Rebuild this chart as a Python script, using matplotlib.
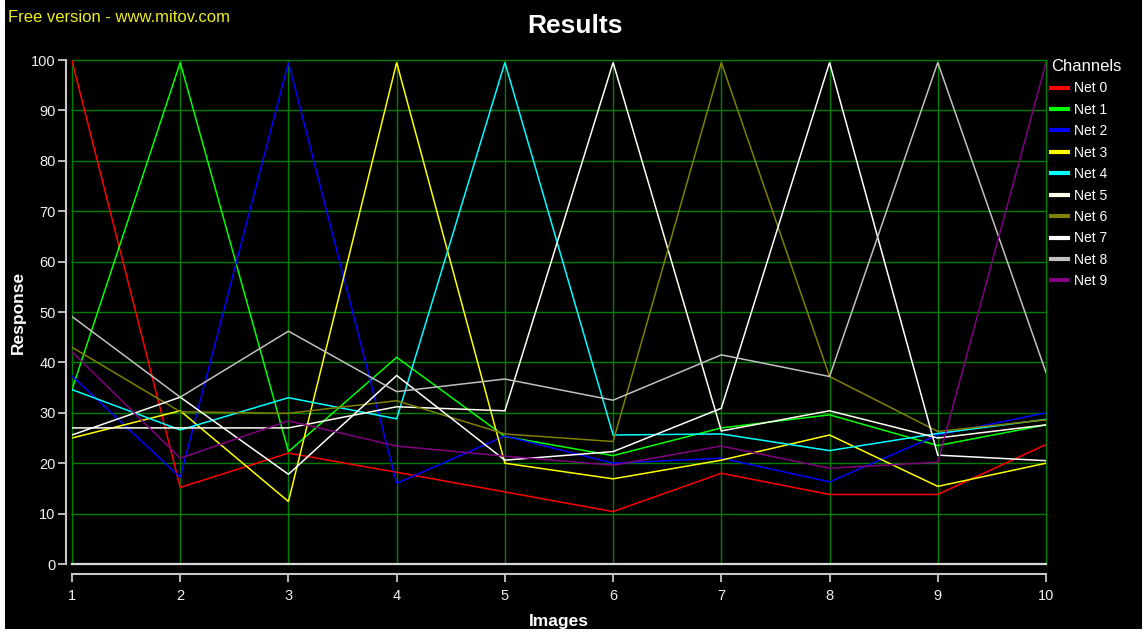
import matplotlib
matplotlib.use("Agg")
import matplotlib.pyplot as plt
from matplotlib.patches import Rectangle

plt.rcParams['font.family'] = ['Liberation Sans', 'DejaVu Sans']

# ---- data -------------------------------------------------------------
images = [1, 2, 3, 4, 5, 6, 7, 8, 9, 10]
channel_names = ["Net 0", "Net 1", "Net 2", "Net 3", "Net 4",
                 "Net 5", "Net 6", "Net 7", "Net 8", "Net 9"]

net0 = [99.8, 15.2, 22.0, 18.2, 14.3, 10.4, 18.0, 13.8, 13.8, 23.7]
net1 = [34.6, 99.5, 22.3, 41.0, 25.3, 21.5, 27.0, 29.6, 23.5, 27.6]
net2 = [37.3, 17.2, 99.5, 16.0, 25.4, 20.0, 21.0, 16.3, 25.6, 30.0]
net3 = [25.0, 30.4, 12.4, 99.5, 20.0, 16.9, 20.6, 25.6, 15.4, 20.0]
net4 = [34.6, 26.6, 33.0, 28.8, 99.5, 25.6, 25.8, 22.5, 25.9, 28.7]
net5 = [27.0, 27.0, 27.0, 31.2, 30.4, 99.5, 26.4, 30.4, 25.0, 27.6]
net6 = [43.0, 30.2, 29.9, 32.4, 25.8, 24.3, 99.5, 37.2, 26.3, 28.6]
net7 = [25.6, 33.1, 17.8, 37.4, 20.6, 22.3, 30.9, 99.5, 21.6, 20.5]
net8 = [49.1, 33.1, 46.2, 34.2, 36.7, 32.5, 41.5, 37.2, 99.5, 38.0]
net9 = [42.1, 21.0, 28.4, 23.4, 21.4, 19.6, 23.4, 19.0, 20.2, 99.5]

series = [net0, net1, net2, net3, net4, net5, net6, net7, net8, net9]
colors = ["#ff0000", "#00ff00", "#0000ff", "#ffff00", "#00ffff",
          "#fffff0", "#808000", "#ffffff", "#c0c0c0", "#800080"]

y_ticks = list(range(0, 101, 10))

# ---- figure -----------------------------------------------------------
W, H = 1147, 633
fig = plt.figure(figsize=(W / 100, H / 100), dpi=100, facecolor="white")
# black canvas with a thin light frame around it
fig.patches.append(Rectangle((5 / W, 4 / H), (W - 10) / W, (H - 4) / H,
                             transform=fig.transFigure, facecolor="black",
                             edgecolor="none", zorder=-10))

ax = fig.add_axes([72 / W, (H - 564) / H, (1046 - 72) / W, (564 - 60) / H])
ax.set_facecolor("black")
ax.set_xlim(1, 10)
ax.set_ylim(0, 100)

grid_green = "#008000"
for xv in images:
    ax.axvline(xv, color=grid_green, lw=1.0, zorder=1, clip_on=False)
for yv in y_ticks[1:]:
    ax.axhline(yv, color=grid_green, lw=1.0, zorder=1, clip_on=False)
ax.axhline(0, color="#d8d8d8", lw=1.6, zorder=2, clip_on=False)

for name, vals, col in zip(channel_names, series, colors):
    ax.plot(images, vals, color=col, lw=1.1, label=name, zorder=3,
            solid_joinstyle="miter")

axis_col = "#c8c8c8"
for side in ("top", "right"):
    ax.spines[side].set_visible(False)
ax.spines["left"].set_position(("outward", 4.3))
ax.spines["bottom"].set_position(("outward", 7.2))
ax.spines["left"].set_color(axis_col)
ax.spines["bottom"].set_color(axis_col)
ax.spines["left"].set_linewidth(1.5)
ax.spines["bottom"].set_linewidth(1.5)
ax.spines["left"].set_bounds(0, 100)
ax.spines["bottom"].set_bounds(1, 10)

ax.set_xticks(images)
ax.set_yticks(y_ticks)
ax.tick_params(axis="both", colors=axis_col, labelcolor="#f0f0f0",
               labelsize=10.5, length=6, width=1.3, direction="out")
ax.tick_params(axis="x", pad=5)
ax.tick_params(axis="y", pad=1.5)

ax.set_xlabel("Images", color="white", fontsize=12.5, fontweight="bold",
              labelpad=8)
ax.set_ylabel("Response", color="white", fontsize=12.5, fontweight="bold",
              labelpad=4)

fig.text(575 / W, 1 - 26 / H, "Results", color="white", fontsize=19,
         fontweight="bold", ha="center", va="center")
fig.text(8 / W, 1 - 17 / H, "Free version - www.mitov.com", color="#eeee20",
         fontsize=12, ha="left", va="center")

leg = ax.legend(loc="upper left", bbox_to_anchor=(1051 / W, 1 - 59 / H),
                bbox_transform=fig.transFigure, frameon=False,
                title="Channels", title_fontsize=12, fontsize=10,
                labelcolor="white", handlelength=1.25, handletextpad=0.4,
                labelspacing=0.535, borderpad=0, borderaxespad=0,
                alignment="left")
leg.get_title().set_color("white")
for h in leg.legend_handles:
    h.set_linewidth(3)

fig.savefig("out.png", dpi=100, facecolor=fig.get_facecolor())
